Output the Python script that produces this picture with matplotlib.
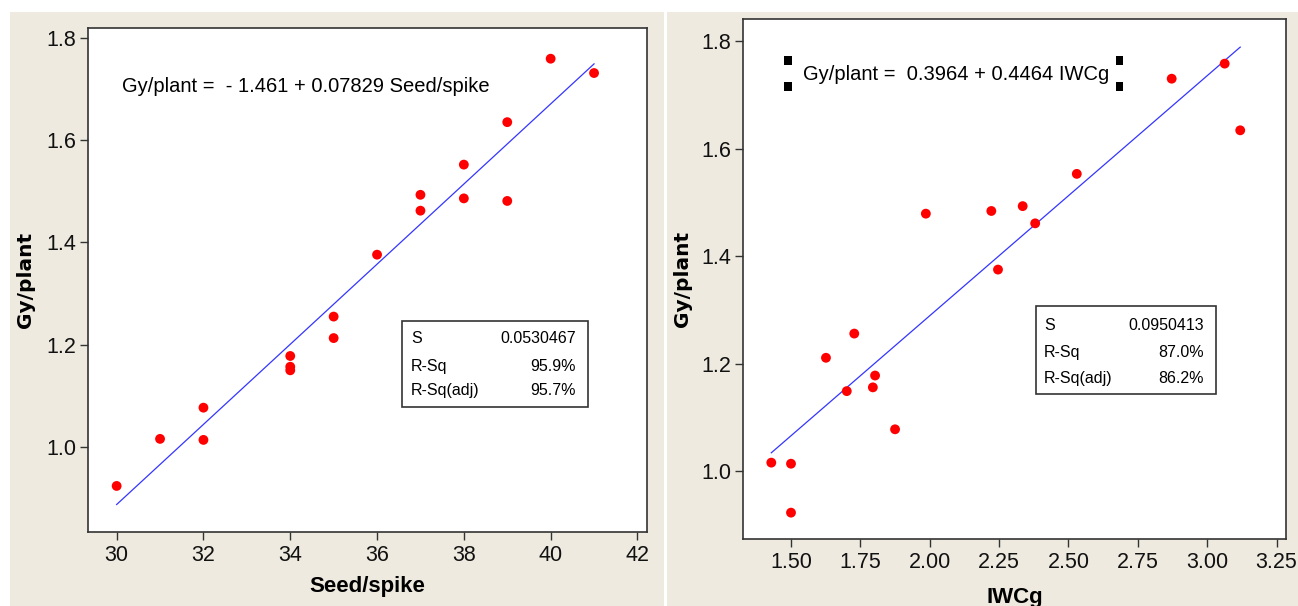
import numpy as np
import matplotlib
matplotlib.use('Agg')
import matplotlib.pyplot as plt
from matplotlib.patches import Rectangle

# 左: Seed/spike vs Gy/plant
seed_spike = [30, 31, 32, 32, 34, 34, 34, 35, 35, 36, 37, 37, 38, 38, 39, 39, 40, 41]
gy_seed = [0.924, 1.016, 1.077, 1.014, 1.178, 1.157, 1.150, 1.255, 1.213, 1.376,
           1.493, 1.462, 1.552, 1.486, 1.635, 1.481, 1.759, 1.731]
fit_seed = (-1.461, 0.07829)
stats_seed = [('S', '0.0530467'), ('R-Sq', '95.9%'), ('R-Sq(adj)', '95.7%')]
xticks_seed = [30, 32, 34, 36, 38, 40, 42]

# 右: IWCg vs Gy/plant
iwcg = [1.429, 1.50, 1.50, 1.626, 1.701, 1.728, 1.795, 1.803, 1.875, 1.986,
        2.222, 2.246, 2.335, 2.380, 2.530, 2.872, 3.063, 3.119]
gy_iwcg = [1.016, 1.014, 0.923, 1.211, 1.149, 1.256, 1.156, 1.178, 1.078, 1.479,
           1.484, 1.375, 1.493, 1.461, 1.553, 1.730, 1.758, 1.634]
fit_iwcg = (0.3964, 0.4464)
stats_iwcg = [('S', '0.0950413'), ('R-Sq', '87.0%'), ('R-Sq(adj)', '86.2%')]
xticks_iwcg = [1.50, 1.75, 2.00, 2.25, 2.50, 2.75, 3.00, 3.25]

yticks = [1.0, 1.2, 1.4, 1.6, 1.8]

font = ['Liberation Sans', 'DejaVu Sans']
beige = '#eeeae0'

fig = plt.figure(figsize=(12.98, 6.06), dpi=100, facecolor='white')
# 背景パネル
fig.patches.append(Rectangle((10/1298, 0), (664-10)/1298, 594/606, transform=fig.transFigure,
                             facecolor=beige, edgecolor='none', zorder=-10))
fig.patches.append(Rectangle((667/1298, 0), (1298-667)/1298, 594/606, transform=fig.transFigure,
                             facecolor=beige, edgecolor='none', zorder=-10))


def draw_panel(rect, x, y, fit, stats, xticks, xlim, ylim, xlabel, fmt,
               eq_text, eq_pos, box, rows, lab_x, val_x):
    ax = fig.add_axes(rect)
    ax.set_facecolor('white')
    xx = np.array([min(x), max(x)])
    ax.plot(xx, fit[0] + fit[1] * xx, color='#3535ff', linewidth=0.9, zorder=2)
    ax.scatter(x, y, s=50, color='#ff0000', edgecolors='none', zorder=3)
    ax.set_xlim(*xlim)
    ax.set_ylim(*ylim)
    ax.set_xticks(xticks)
    ax.set_xticklabels([fmt.format(v) for v in xticks])
    ax.set_yticks(yticks)
    ax.set_yticklabels(['{:.1f}'.format(v) for v in yticks])
    for lab in ax.get_xticklabels() + ax.get_yticklabels():
        lab.set_fontfamily(font)
        lab.set_fontsize(15.5)
        lab.set_color('#111111')
    ax.tick_params(axis='x', length=5.5, width=1, color='#333333', pad=4)
    ax.tick_params(axis='y', length=5.5, width=1, color='#333333', pad=3)
    for s in ax.spines.values():
        s.set_color('#333333')
        s.set_linewidth(1.2)
    ax.set_xlabel(xlabel, fontsize=16, fontweight='bold', family=font)
    ax.set_ylabel('Gy/plant', fontsize=14.5, fontweight='bold', family='DejaVu Sans')
    ax.text(eq_pos[0], eq_pos[1], eq_text, transform=ax.transAxes, fontsize=14.5,
            family=font, ha='left', va='center')
    # 統計量の枠
    ax.add_patch(Rectangle((box[0], box[1]), box[2] - box[0], box[3] - box[1],
                           transform=ax.transAxes, facecolor='white', edgecolor='#333333',
                           linewidth=1.2, zorder=4))
    for (lab, val), ry in zip(stats, rows):
        ax.text(lab_x, ry, lab, transform=ax.transAxes, fontsize=11.5, family=font,
                ha='left', va='center', zorder=5)
        ax.text(val_x, ry, val, transform=ax.transAxes, fontsize=11.5, family=font,
                ha='right', va='center', zorder=5)
    return ax


ax1 = draw_panel([88/1298, 1-532/606, (647-88)/1298, (532-28)/606],
                 seed_spike, gy_seed, fit_seed, stats_seed, xticks_seed,
                 (29.34, 42.22), (0.834, 1.819), 'Seed/spike', '{:d}',
                 'Gy/plant =  - 1.461 + 0.07829 Seed/spike', (0.061, 0.883),
                 (0.5617, 0.248, 0.8945, 0.4187), [0.383, 0.329, 0.280], 0.578, 0.873)
ax1.xaxis.set_label_coords(0.5, -0.087)
ax1.yaxis.set_label_coords(-0.094, 0.5)

ax2 = draw_panel([743/1298, 1-539/606, (1286-743)/1298, (539-19)/606],
                 iwcg, gy_iwcg, fit_iwcg, stats_iwcg, xticks_iwcg,
                 (1.327, 3.284), (0.874, 1.841), 'IWCg', '{:.2f}',
                 'Gy/plant =  0.3964 + 0.4464 IWCg', (0.110, 0.894),
                 (0.5396, 0.279, 0.871, 0.448), [0.4115, 0.3596, 0.3096], 0.554, 0.849)
ax2.xaxis.set_label_coords(0.5, -0.092)
ax2.yaxis.set_label_coords(-0.094, 0.5)

# 選択ハンドル
for hx in [0.0829, 0.694]:
    for hy in [0.921, 0.871]:
        ax2.add_patch(Rectangle((hx - 0.0065, hy - 0.0087), 0.013, 0.0174,
                                transform=ax2.transAxes, facecolor='black',
                                edgecolor='none', zorder=5))

fig.savefig('out.png', dpi=100, facecolor=fig.get_facecolor())
